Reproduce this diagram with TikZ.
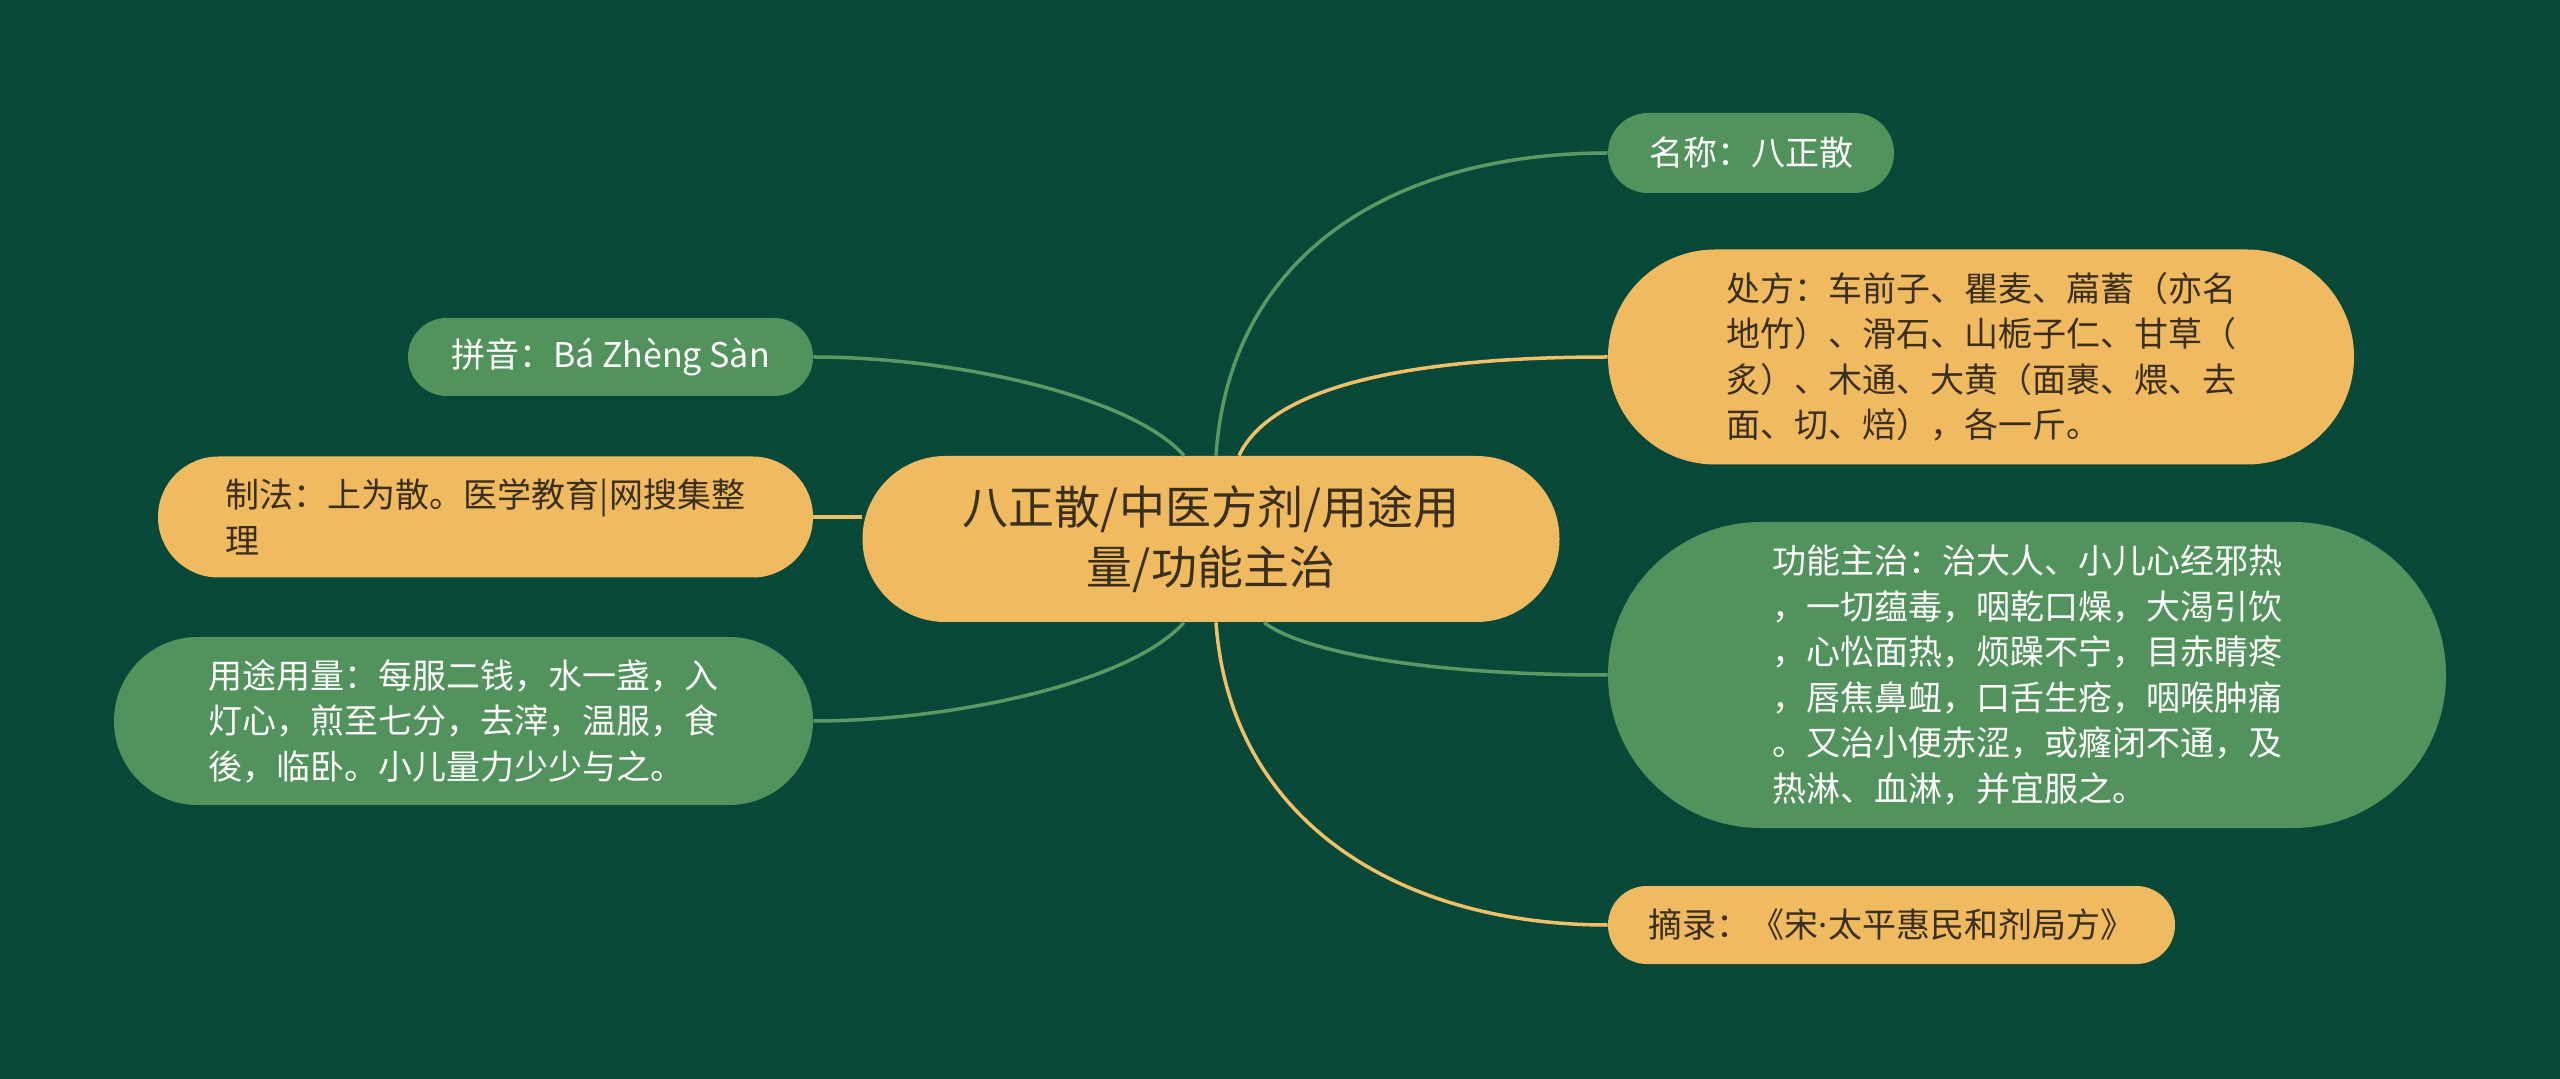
\documentclass[tikz,border=0pt]{standalone}
\usepackage{fontspec}
\usetikzlibrary{calc}
\newfontfamily\cjk{Noto Sans CJK SC}
\newfontfamily\latinf{Noto Sans}
\definecolor{bgc}{HTML}{074839}
\definecolor{ngreen}{HTML}{52925C}
\definecolor{norange}{HTML}{F0BA60}
\definecolor{tdark}{HTML}{3A2E1C}
\definecolor{lgreen}{HTML}{5A9A62}
\definecolor{lorange}{HTML}{F0C068}
\tikzset{
  base/.style={rectangle, inner sep=0pt, align=left,
    font=\cjk\fontsize{17pt}{22.75pt}\selectfont},
  gnode/.style={base, fill=ngreen, text=white},
  onode/.style={base, fill=norange, text=tdark},
  gline/.style={draw=lgreen, line width=1.75pt},
  oline/.style={draw=lorange, line width=1.75pt},
}
\begin{document}
\begin{tikzpicture}[x=0.5pt,y=-0.5pt]
\fill[bgc] (0,0) rectangle (2560,1079);
\useasboundingbox (0,0) rectangle (2560,1079);

% center
\node[onode, align=center, minimum width=348.5pt, minimum height=83pt, rounded corners=41.4pt,
  font=\cjk\fontsize{23pt}{30pt}\selectfont] (c) at (1211,539)
  {八正散/中医方剂/用途用\\量/功能主治};

% right side
\node[gnode, minimum width=143pt, minimum height=40pt, rounded corners=19.9pt] (name) at (1751,153)
  {名称：八正散};
\node[onode, minimum width=373pt, minimum height=107.5pt, rounded corners=53.6pt] (chufang) at (1981,357)
  {处方：车前子、瞿麦、萹蓄（亦名\\地竹）、滑石、山栀子仁、甘草（\\炙）、木通、大黄（面裹、煨、去\\面、切、焙），各一斤。};
\node[gnode, minimum width=419pt, minimum height=153pt, rounded corners=76.4pt] (gongneng) at (2027,675)
  {功能主治：治大人、小儿心经邪热\\，一切蕴毒，咽乾口燥，大渴引饮\\，心忪面热，烦躁不宁，目赤睛疼\\，唇焦鼻衄，口舌生疮，咽喉肿痛\\。又治小便赤涩，或癃闭不通，及\\热淋、血淋，并宜服之。};
\node[onode, minimum width=283.5pt, minimum height=39pt, rounded corners=19.4pt] (zhailu) at (1891.5,925)
  {摘录：《宋{\latinf ·}太平惠民和剂局方》};

% left side
\node[gnode, minimum width=202.5pt, minimum height=39pt, rounded corners=19.4pt] (pinyin) at (610.5,357)
  {拼音：Bá Zhèng Sàn};
\node[onode, minimum width=327.5pt, minimum height=60.5pt, rounded corners=30.2pt] (zhifa) at (485.5,517)
  {制法：上为散。医学教育|网搜集整\\理};
\node[gnode, minimum width=349.5pt, minimum height=84pt, rounded corners=41.9pt] (yongtu) at (463.5,721)
  {用途用量：每服二钱，水一盏，入\\灯心，煎至七分，去滓，温服，食\\後，临卧。小儿量力少少与之。};

% connectors
\draw[gline] (pinyin.east) .. controls ($(pinyin.east)+(137,0)$) and ($(c.north)+(-81,-61)$) .. ($(c.north)+(-27,0)$);
\draw[oline] (zhifa.east) -- (c.west |- zhifa.east);
\draw[gline] (yongtu.east) .. controls ($(yongtu.east)+(137,0)$) and ($(c.south)+(-81,61)$) .. ($(c.south)+(-27,0)$);

\draw[gline] ($(c.north)+(5,0)$) .. controls ($(c.north)+(19,-206)$) and ($(name.west)+(-209,0)$) .. (name.west);
\draw[oline] ($(c.north)+(28,0)$) .. controls ($(c.north)+(59,-66)$) and ($(chufang.west)+(-209,0)$) .. (chufang.west);
\draw[gline] ($(c.south)+(53,0)$) .. controls ($(c.south)+(89,28)$) and ($(gongneng.west)+(-189,0)$) .. (gongneng.west);
\draw[oline] ($(c.south)+(5,0)$) .. controls ($(c.south)+(19,198)$) and ($(zhailu.west)+(-209,0)$) .. (zhailu.west);
\end{tikzpicture}
\end{document}
